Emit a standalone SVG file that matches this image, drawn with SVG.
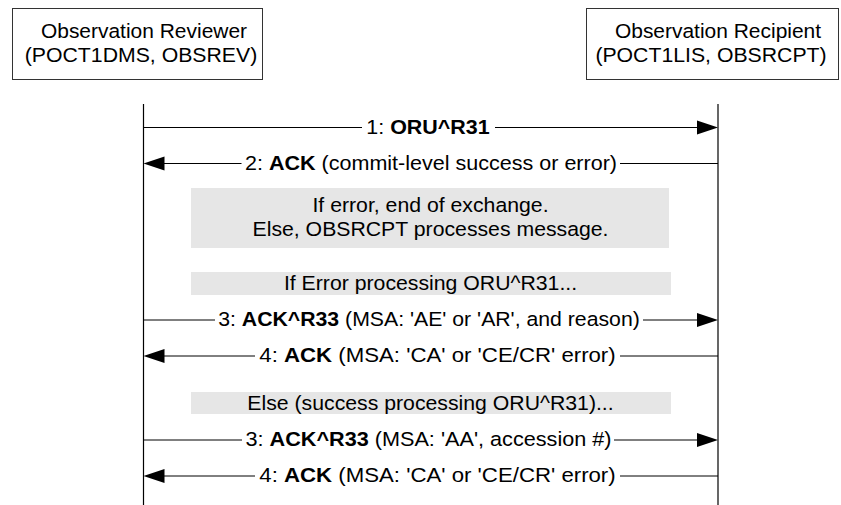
<svg xmlns="http://www.w3.org/2000/svg" width="841" height="505" viewBox="0 0 841 505">
<style>
  text { font-family: "Liberation Sans", Arial, sans-serif; font-size: 19.5px; fill: #000; }
  .b { font-weight: bold; }
  .actor { fill: #fff; stroke: #333; stroke-width: 1; }
  .life { stroke: #000; stroke-width: 1.2; fill: none; }
  .msg { stroke: #000; stroke-width: 1; fill: none; }
  .note { fill: #e6e6e6; stroke: none; }
  .head { fill: #000; stroke: none; }
</style>
<rect width="841" height="505" fill="#fff"/>
<g id="reviewer">
  <rect class="actor" x="12.5" y="8.5" width="250" height="71"/>
  <text transform="translate(144,38) scale(1.075,1)" text-anchor="middle">Observation Reviewer</text>
  <text transform="translate(141,62) scale(1.09,1)" text-anchor="middle">(POCT1DMS, OBSREV)</text>
</g>
<g id="recipient">
  <rect class="actor" x="586.5" y="8.5" width="252" height="71"/>
  <text transform="translate(718,38) scale(1.075,1)" text-anchor="middle">Observation Recipient</text>
  <text transform="translate(711,62) scale(1.09,1)" text-anchor="middle">(POCT1LIS, OBSRCPT)</text>
</g>
<g id="lifelines">
  <line class="life" x1="143.5" y1="104" x2="143.5" y2="505"/>
  <line class="life" x1="718" y1="104" x2="718" y2="505"/>
</g>
<g id="notes">
  <g id="note1">
    <rect class="note" x="191" y="188" width="478" height="60"/>
    <text transform="translate(430.5,212) scale(1.09,1)" text-anchor="middle">If error, end of exchange.</text>
    <text transform="translate(430.5,236) scale(1.09,1)" text-anchor="middle">Else, OBSRCPT processes message.</text>
  </g>
  <g id="note2">
    <rect class="note" x="191" y="272" width="480" height="23"/>
    <text transform="translate(430.5,289.5) scale(1.09,1)" text-anchor="middle">If Error processing ORU^R31...</text>
  </g>
  <g id="note3">
    <rect class="note" x="191" y="392" width="480" height="22"/>
    <text transform="translate(430.5,409.5) scale(1.09,1)" text-anchor="middle">Else (success processing ORU^R31)...</text>
  </g>
</g>
<g id="connectors">
  <g id="m1">
    <path class="msg" d="M143.5,127.5 H362 M495,127.5 H700"/>
    <polygon class="head" points="718,127.5 697,120.5 697,134.5"/>
    <text transform="translate(428,134) scale(1.1,1)" text-anchor="middle">1: <tspan class="b">ORU^R31</tspan></text>
  </g>
  <g id="m2">
    <path class="msg" d="M160,163.5 H241.5 M620,163.5 H718"/>
    <polygon class="head" points="143.5,163.5 164.5,156.5 164.5,170.5"/>
    <text transform="translate(431,169.5) scale(1.105,1)" text-anchor="middle">2: <tspan class="b">ACK</tspan> (commit-level success or error)</text>
  </g>
  <g id="m3">
    <path class="msg" d="M143.5,320 H215 M643,320 H700"/>
    <polygon class="head" points="718,320 697,313 697,327"/>
    <text transform="translate(429,326) scale(1.09,1)" text-anchor="middle">3: <tspan class="b">ACK^R33</tspan> (MSA: 'AE' or 'AR', and reason)</text>
  </g>
  <g id="m4">
    <path class="msg" d="M160,356 H255 M620,356 H718"/>
    <polygon class="head" points="143.5,356 164.5,349 164.5,363"/>
    <text transform="translate(437.5,362) scale(1.14,1)" text-anchor="middle">4: <tspan class="b">ACK</tspan> (MSA: 'CA' or 'CE/CR' error)</text>
  </g>
  <g id="m5">
    <path class="msg" d="M143.5,440 H242 M614,440 H700"/>
    <polygon class="head" points="718,440 697,433 697,447"/>
    <text transform="translate(428.5,446) scale(1.11,1)" text-anchor="middle">3: <tspan class="b">ACK^R33</tspan> (MSA: 'AA', accession #)</text>
  </g>
  <g id="m6">
    <path class="msg" d="M160,476 H255 M620,476 H718"/>
    <polygon class="head" points="143.5,476 164.5,469 164.5,483"/>
    <text transform="translate(437.5,482) scale(1.14,1)" text-anchor="middle">4: <tspan class="b">ACK</tspan> (MSA: 'CA' or 'CE/CR' error)</text>
  </g>
</g>
</svg>
